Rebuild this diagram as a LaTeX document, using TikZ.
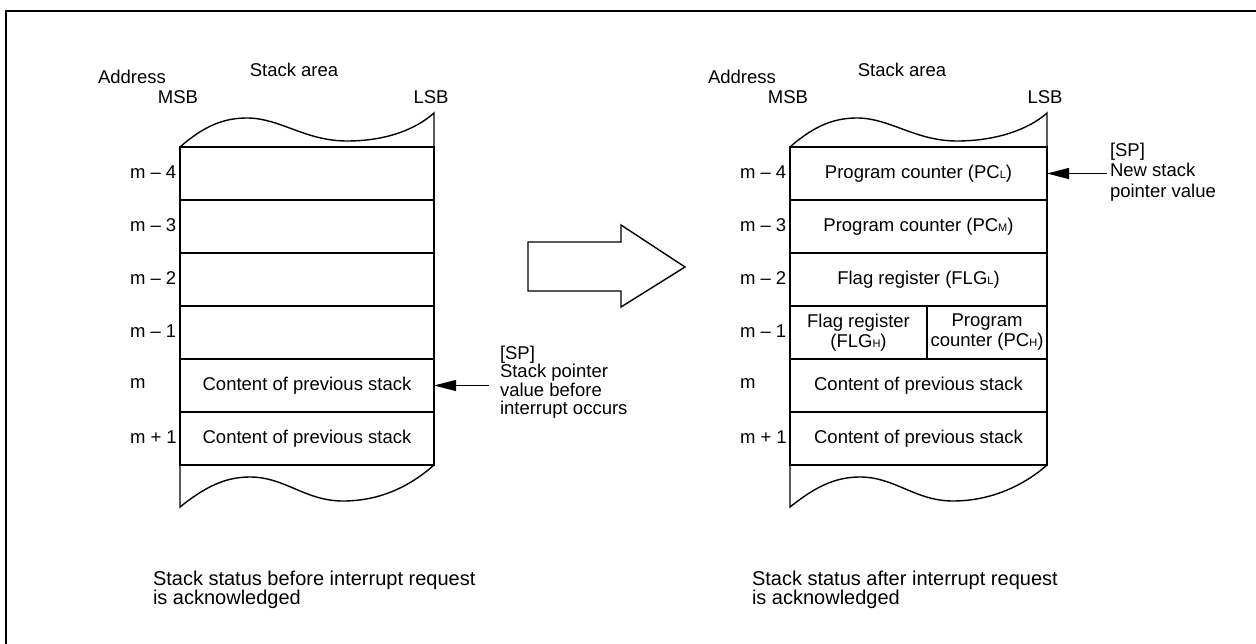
\documentclass[tikz,border=0pt]{standalone}
\usepackage{fontspec}
\setmainfont{Liberation Sans}
\usetikzlibrary{arrows.meta}
\newcommand\subsm[1]{{\fontsize{11}{11}\selectfont #1}}
\begin{document}
\begin{tikzpicture}[x=1pt,y=-1pt,
  ln/.style={line width=1.4pt},
  txt/.style={font=\fontsize{18.5}{18.5}\selectfont, inner sep=0pt, outer sep=0pt},
  cell/.style={draw, line width=1.4pt, minimum height=53pt, inner sep=0pt, outer sep=0pt,
    anchor=north west, align=center, font=\fontsize{18.5}{20}\selectfont},
  lbl/.style={txt, anchor=west},
  ptr/.style={line width=1.1pt, -{Triangle[length=22pt,width=11pt]}}]
\useasboundingbox (0,0) rectangle (1256,644);
\draw[line width=2pt] (6,644) -- (6,11) -- (1256,11);

% ---------- left stack ----------
\node[cell, minimum width=254pt] (L4) at (180,147) {};
\node[cell, minimum width=254pt] (L3) at (180,200) {};
\node[cell, minimum width=254pt] (L2) at (180,253) {};
\node[cell, minimum width=254pt] (L1) at (180,306) {};
\node[cell, minimum width=254pt] (L0) at (180,359) {Content of previous stack};
\node[cell, minimum width=254pt] (Lp) at (180,412) {Content of previous stack};
\draw[ln] (L4.north west) .. controls (205,125) and (225,118) .. (247,118)
  .. controls (280,118) and (305,141) .. (347,141)
  .. controls (385,141) and (415,130) .. (434,113) -- (L4.north east);
\draw[ln] (Lp.south west) -- (180,507) .. controls (205,487) and (225,477) .. (250,477)
  .. controls (285,477) and (305,501) .. (343,501)
  .. controls (385,501) and (415,482) .. (Lp.south east);

\node[lbl] (la4) at (130,172) {m – 4};
\node[lbl] (la3) at (130,225) {m – 3};
\node[lbl] (la2) at (130,278) {m – 2};
\node[lbl] (la1) at (130,331) {m – 1};
\node[lbl] (la0) at (130,384) {m};
\node[lbl] (lap) at (130,437) {m + 1};

\node[lbl] (addrL) at (98,77) {Address};
\node[txt] (areaL) at (294,70) {Stack area};
\node[txt] (msbL) at (178,97) {MSB};
\node[txt] (lsbL) at (431,97) {LSB};

\node[txt, anchor=north west, align=left, font=\fontsize{18.5}{18.3}\selectfont] (spLt) at (500,346)
  {[SP]\\Stack pointer\\value before\\interrupt occurs};
\coordinate (spL) at (489,385.5);
\draw[ptr] (spL) -- (L0.east);

\node[txt, anchor=north west, align=left, font=\fontsize{20}{19.5}\selectfont] (capL) at (153,571)
  {Stack status before interrupt request\\is acknowledged};

% ---------- big arrow ----------
\draw[ln, line join=miter] (528,242) -- (621,242) -- (621,225) -- (685,267) -- (621,307) -- (621,291) -- (528,291) -- cycle;

% ---------- right stack ----------
\node[cell, minimum width=257pt] (R4) at (790,147) {Program counter (PC\subsm{L})};
\node[cell, minimum width=257pt] (R3) at (790,200) {Program counter (PC\subsm{M})};
\node[cell, minimum width=257pt] (R2) at (790,253) {Flag register (FLG\subsm{L})};
\node[cell, minimum width=137pt] (R1a) at (790,306) {Flag register\\(FLG\subsm{H})};
\node[cell, minimum width=120pt] (R1b) at (927,306) {Program\\counter (PC\subsm{H})};
\node[cell, minimum width=257pt] (R0) at (790,359) {Content of previous stack};
\node[cell, minimum width=257pt] (Rp) at (790,412) {Content of previous stack};
\draw[ln] (R4.north west) .. controls (815,125) and (835,118) .. (857,118)
  .. controls (890,118) and (915,141) .. (957,141)
  .. controls (995,141) and (1028,130) .. (1047,113) -- (R4.north east);
\draw[ln] (Rp.south west) -- (790,507) .. controls (815,487) and (835,477) .. (860,477)
  .. controls (895,477) and (915,501) .. (953,501)
  .. controls (995,501) and (1028,482) .. (Rp.south east);

\node[lbl] (ra4) at (740,172) {m – 4};
\node[lbl] (ra3) at (740,225) {m – 3};
\node[lbl] (ra2) at (740,278) {m – 2};
\node[lbl] (ra1) at (740,331) {m – 1};
\node[lbl] (ra0) at (740,384) {m};
\node[lbl] (rap) at (740,437) {m + 1};

\node[lbl] (addrR) at (708,77) {Address};
\node[txt] (areaR) at (902,70) {Stack area};
\node[txt] (msbR) at (788,97) {MSB};
\node[txt] (lsbR) at (1045,97) {LSB};

\node[txt, anchor=north west, align=left, font=\fontsize{18.5}{20.5}\selectfont] (spRt) at (1110,143)
  {[SP]\\New stack\\pointer value};
\coordinate (spR) at (1107,173.5);
\draw[ptr] (spR) -- (R4.east);

\node[txt, anchor=north west, align=left, font=\fontsize{20}{19.5}\selectfont] (capR) at (752,571)
  {Stack status after interrupt request\\is acknowledged};
\end{tikzpicture}
\end{document}
